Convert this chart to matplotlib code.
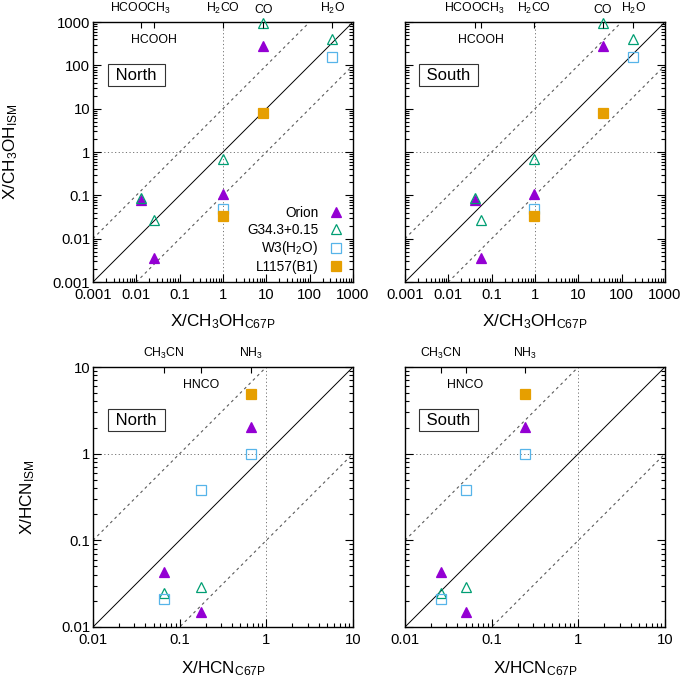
#!/usr/bin/env python

import numpy as np
import matplotlib
matplotlib.use('Agg')
import matplotlib.pyplot as plt
from matplotlib.ticker import LogLocator, NullLocator, NullFormatter

plt.rcParams['font.family'] = ['Liberation Sans', 'DejaVu Sans']
plt.rcParams['mathtext.fontset'] = 'custom'
plt.rcParams['mathtext.rm'] = 'Liberation Sans'
plt.rcParams['mathtext.it'] = 'Liberation Sans:italic'
plt.rcParams['mathtext.default'] = 'rm'

nan = np.nan

# ratios to CH3OH (top row)
ch3oh_mols = ['HCOOCH$_3$', 'HCOOH', 'H$_2$CO', 'CO', 'H$_2$O']
ch3oh_x_north = [0.0126, 0.025, 1.0, 8.5, 330]
ch3oh_x_south = [0.041, 0.056, 0.95, 36.7, 187]
ch3oh_orion = [0.079, 0.0036, 0.105, 284, nan]
ch3oh_g34 = [0.087, 0.027, 0.68, 930, 405]
ch3oh_w3 = [nan, nan, 0.048, nan, 153]
ch3oh_l1157 = [nan, nan, 0.033, 8.1, nan]
ch3oh_ticks = [0.001, 0.01, 0.1, 1, 10, 100, 1000]

# ratios to HCN (bottom row)
hcn_mols = ['CH$_3$CN', 'HNCO', 'NH$_3$']
hcn_x_north = [0.066, 0.176, 0.66]
hcn_x_south = [0.026, 0.050, 0.244]
hcn_orion = [0.043, 0.0148, 2.04]
hcn_g34 = [0.0245, 0.029, nan]
hcn_w3 = [0.021, 0.38, 1.0]
hcn_l1157 = [nan, nan, 4.9]
hcn_ticks = [0.01, 0.1, 1, 10]

sources = ['Orion', 'G34.3+0.15', 'W3(H$_2$O)', 'L1157(B1)']
colors = ['#9400D3', '#009E73', '#56B4E9', '#E69F00']
markers = ['^', '^', 's', 's']
filled = [True, False, False, True]

# the second molecule label sits under the top axis, the rest above it
low_label = 1


def panel(ax, xs, mols, ys, ticks, region, mol, left):
    lo, hi = ticks[0], ticks[-1]
    ax.set_xscale('log')
    ax.set_yscale('log')
    ax.set_xlim(lo, hi)
    ax.set_ylim(lo, hi)

    lim = np.array([lo, hi])
    ax.plot(lim, lim, color='black', lw=0.7, zorder=1)
    ax.plot(lim, lim * 10, color='0.35', lw=0.8, ls=(0, (2.5, 3)), zorder=1)
    ax.plot(lim, lim / 10, color='0.35', lw=0.8, ls=(0, (2.5, 3)), zorder=1)
    ax.axhline(1, color='0.45', lw=0.7, ls=(0, (1.2, 2.5)), zorder=1)
    ax.axvline(1, color='0.45', lw=0.7, ls=(0, (1.2, 2.5)), zorder=1)

    for y, name, c, m, f in zip(ys, sources, colors, markers, filled):
        ax.plot(xs, y, ls='none', marker=m, ms=7, color=c,
                mfc=c if f else 'none', mew=0.9, label=name,
                clip_on=False, zorder=3)

    ax.set_xticks(ticks, labels=['%g' % t for t in ticks])
    ax.set_yticks(ticks, labels=['%g' % t for t in ticks] if left else [])
    ax.xaxis.set_minor_locator(LogLocator(base=10, subs=np.arange(2, 10), numticks=20))
    ax.yaxis.set_minor_locator(LogLocator(base=10, subs=np.arange(2, 10), numticks=20))
    ax.xaxis.set_minor_formatter(NullFormatter())
    ax.yaxis.set_minor_formatter(NullFormatter())
    ax.tick_params(which='both', direction='in', top=False, right=True,
                   labelsize=10.7, width=0.8)
    ax.tick_params(which='major', length=6)
    ax.tick_params(which='minor', length=3)
    ax.tick_params(axis='x', pad=4.5)
    ax.tick_params(axis='y', pad=2)
    for s in ax.spines.values():
        s.set_linewidth(1.0)

    # molecule ticks on top
    ax2 = ax.twiny()
    ax2.set_xscale('log')
    ax2.set_xlim(lo, hi)
    ax2.set_xticks(xs, labels=['' if i == low_label else m for i, m in enumerate(mols)])
    ax2.xaxis.set_minor_locator(NullLocator())
    ax2.tick_params(direction='in', length=4, width=0.8, labelsize=8.8, pad=4.5)
    for s in ax2.spines.values():
        s.set_visible(False)
    ax.text(xs[low_label], 0.931, mols[low_label], transform=ax.get_xaxis_transform(),
            ha='center', va='center', fontsize=8.8)

    ax.text(0.167, 0.795, ' ' + region + ' ', transform=ax.transAxes,
            ha='center', va='center', fontsize=12,
            bbox=dict(boxstyle='square,pad=0.2', fc='white', ec='0.2', lw=0.8),
            zorder=4)

    ax.set_xlabel('X/' + mol + '$_\\mathrm{C67P}$', fontsize=12.3)
    if left:
        ax.set_ylabel('X/' + mol + '$_\\mathrm{ISM}$', fontsize=12.3)


fig = plt.figure(figsize=(6.85, 6.77), dpi=100)
W, H = 685.0, 677.0


def box(x0, y0):
    return [x0 / W, 1 - (y0 + 260) / H, 260 / W, 260 / H]


ax_tl = fig.add_axes(box(93, 22))
ax_tr = fig.add_axes(box(405, 22))
ax_bl = fig.add_axes(box(93, 367))
ax_br = fig.add_axes(box(405, 367))

ch3oh_ys = [ch3oh_orion, ch3oh_g34, ch3oh_w3, ch3oh_l1157]
hcn_ys = [hcn_orion, hcn_g34, hcn_w3, hcn_l1157]

panel(ax_tl, ch3oh_x_north, ch3oh_mols, ch3oh_ys, ch3oh_ticks, 'North', 'CH$_3$OH', True)
panel(ax_tr, ch3oh_x_south, ch3oh_mols, ch3oh_ys, ch3oh_ticks, 'South', 'CH$_3$OH', False)
panel(ax_bl, hcn_x_north, hcn_mols, hcn_ys, hcn_ticks, 'North', 'HCN', True)
panel(ax_br, hcn_x_south, hcn_mols, hcn_ys, hcn_ticks, 'South', 'HCN', False)

for ax in [ax_tl, ax_tr]:
    ax.xaxis.set_label_coords(0.5, -0.118)
for ax in [ax_bl, ax_br]:
    ax.xaxis.set_label_coords(0.5, -0.123)
ax_tl.yaxis.set_label_coords(-0.28, 0.5)
ax_bl.yaxis.set_label_coords(-0.215, 0.5)

ax_tl.legend(loc='lower right', bbox_to_anchor=(0.961, 0.03), frameon=False,
             markerfirst=False, fontsize=9.8, handlelength=1.0,
             handletextpad=0.8, labelspacing=0.2, borderpad=0, borderaxespad=0)

plt.savefig('out.png', dpi=100)
